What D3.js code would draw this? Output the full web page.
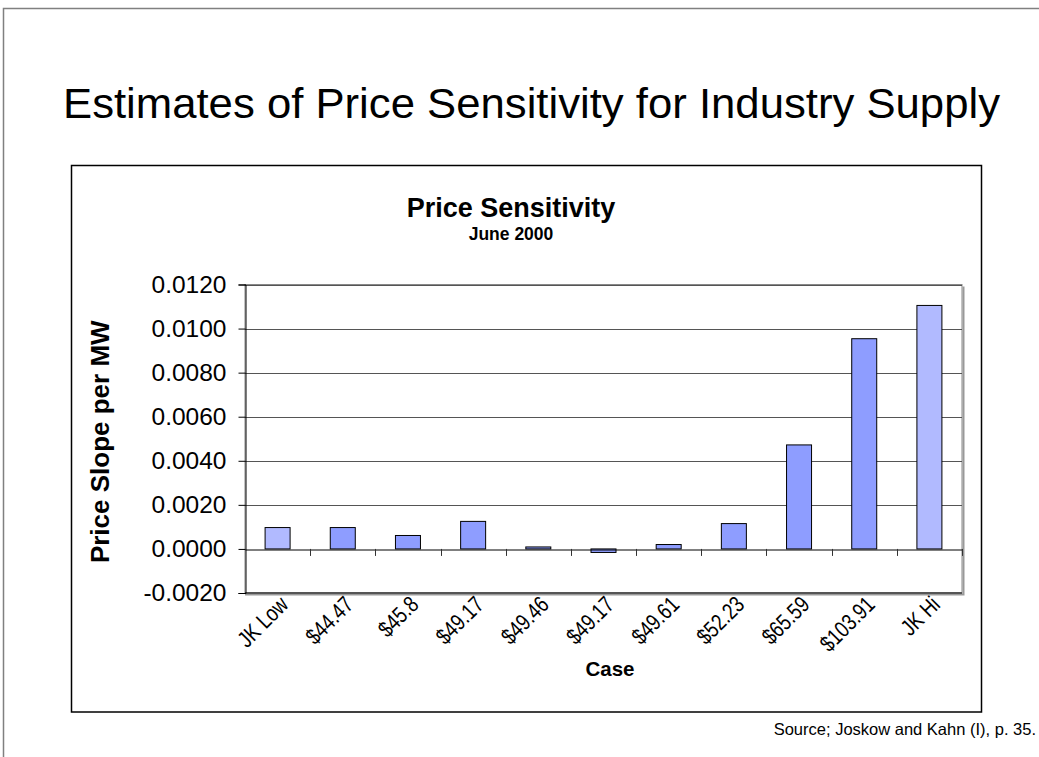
<!DOCTYPE html>
<html>
<head>
<meta charset="utf-8">
<script src="https://cdn.jsdelivr.net/npm/d3@7"></script>
<style>
  html, body { margin: 0; padding: 0; background: #fff; }
  svg { display: block; font-family: "Liberation Sans", Arial, sans-serif; }
</style>
</head>
<body>
<svg id="chart" width="1039" height="757"></svg>
<script>
// ---- data ----
const categories = ["JK Low", "$44.47", "$45.8", "$49.17", "$49.46", "$49.17 ", "$49.61", "$52.23", "$65.59", "$103.91", "JK Hi"];
const categoryLabels = ["JK Low", "$44.47", "$45.8", "$49.17", "$49.46", "$49.17", "$49.61", "$52.23", "$65.59", "$103.91", "JK Hi"];
const slopes = [0.00097, 0.00097, 0.00061, 0.00125, 0.00009, -0.00016, 0.00020, 0.00115, 0.00472, 0.00954, 0.01105];
const highlight = [true, false, false, false, false, false, false, false, false, false, true];
const yTicks = [-0.002, 0.0, 0.002, 0.004, 0.006, 0.008, 0.010, 0.012];
const yTickLabels = ["-0.0020", "0.0000", "0.0020", "0.0040", "0.0060", "0.0080", "0.0100", "0.0120"];

const svg = d3.select("#chart");

// slide frame
svg.append("path").attr("d", "M3.5,757 L3.5,8.5 L1039,8.5")
  .attr("fill", "none").attr("stroke", "#808080").attr("stroke-width", 1.5);

// slide title
svg.append("text")
  .attr("x", 63).attr("y", 118)
  .attr("textLength", 937).attr("lengthAdjust", "spacingAndGlyphs")
  .style("font-size", "43px").attr("fill", "#000")
  .text("Estimates of Price Sensitivity for Industry Supply");

// chart box
svg.append("rect").attr("x", 71.5).attr("y", 165.5).attr("width", 910).attr("height", 546.5)
  .attr("fill", "#fff").attr("stroke", "#000").attr("stroke-width", 1.5);

// scales
const plotL = 245, plotR = 962, plotT = 284.5, plotB = 593;
const x = d3.scaleBand().domain(categories).range([plotL, plotR]);
const y = d3.scaleLinear().domain([-0.002, 0.012]).range([plotB, plotT]);

// plot area border (top/right gray with shadow)
svg.append("rect").attr("x", plotL).attr("y", plotT).attr("width", plotR - plotL).attr("height", plotB - plotT)
  .attr("fill", "#fff").attr("stroke", "#888").attr("stroke-width", 1);
svg.append("path").attr("d", `M${plotR + 1.5},${plotT + 2} L${plotR + 1.5},${plotB + 1.5} L${plotL},${plotB + 1.5}`)
  .attr("fill", "none").attr("stroke", "#999").attr("stroke-width", 2);

// gridlines
svg.append("g").selectAll("line").data(yTicks.filter(d => d !== 0)).join("line")
  .attr("x1", plotL).attr("x2", plotR)
  .attr("y1", d => Math.round(y(d)) + 0.5).attr("y2", d => Math.round(y(d)) + 0.5)
  .attr("stroke", "#555").attr("stroke-width", 1.2);

// bottom plot edge
svg.append("line").attr("x1", plotL).attr("x2", plotR).attr("y1", plotB).attr("y2", plotB)
  .attr("stroke", "#555").attr("stroke-width", 2);

// y axis
const yAxis = d3.axisLeft(y).tickValues(yTicks).tickSize(7).tickPadding(12)
  .tickFormat((d, i) => yTickLabels[i]);
const gy = svg.append("g").attr("transform", `translate(${plotL + 0.5},0)`).call(yAxis);
gy.select(".domain").attr("stroke", "#000");
gy.selectAll(".tick line").attr("stroke", "#000");
gy.selectAll(".tick text").style("font-size", "24.5px").attr("fill", "#000")
  .attr("font-family", "Liberation Sans, Arial, sans-serif");

// bars
const bw = 25;
svg.append("g").selectAll("rect").data(categories).join("rect")
  .attr("x", (c) => x(c) + x.bandwidth() / 2 - bw / 2)
  .attr("y", (c, i) => y(Math.max(0, slopes[i])))
  .attr("width", bw)
  .attr("height", (c, i) => Math.abs(y(slopes[i]) - y(0)))
  .attr("fill", (c, i) => highlight[i] ? "#B1BAFF" : "#8E9DFF")
  .attr("stroke", "#000").attr("stroke-width", 1);

// zero axis with category tick marks
const gx = svg.append("g").attr("transform", `translate(0,${Math.round(y(0)) + 0.5})`)
  .call(d3.axisBottom(x).tickSize(0).tickFormat(""));
gx.select(".domain").attr("stroke", "#000");
const boundaries = categories.slice(1).map(c => x(c)).concat([plotR]);
svg.append("g").selectAll("line").data(boundaries).join("line")
  .attr("x1", d => Math.round(d) + 0.5).attr("x2", d => Math.round(d) + 0.5)
  .attr("y1", y(0)).attr("y2", y(0) + 7)
  .attr("stroke", "#333").attr("stroke-width", 1);

// category labels (rotated)
svg.append("g").selectAll("text").data(categories).join("text")
  .attr("transform", c => `translate(${x(c) + x.bandwidth() / 2 + 12},${plotB + 13}) rotate(-45) scale(0.8,1)`)
  .attr("text-anchor", "end")
  .style("font-size", "23px").attr("fill", "#000")
  .text((c, i) => categoryLabels[i]);

// chart titles
svg.append("text").attr("x", 511).attr("y", 217).attr("text-anchor", "middle")
  .style("font-size", "27px").style("font-weight", "bold").text("Price Sensitivity");
svg.append("text").attr("x", 511).attr("y", 240).attr("text-anchor", "middle")
  .style("font-size", "17.5px").style("font-weight", "bold").text("June 2000");

// axis titles
svg.append("text").attr("transform", `translate(109,${(plotT + plotB) / 2 + 3}) rotate(-90)`)
  .attr("text-anchor", "middle").style("font-size", "26px").style("font-weight", "bold")
  .text("Price Slope per MW");
svg.append("text").attr("x", 610).attr("y", 676).attr("text-anchor", "middle")
  .style("font-size", "20.5px").style("font-weight", "bold").text("Case");

// source
svg.append("text").attr("x", 1036).attr("y", 735).attr("text-anchor", "end")
  .style("font-size", "16.5px").attr("fill", "#000").text("Source; Joskow and Kahn (I), p. 35.");
</script>
</body>
</html>
